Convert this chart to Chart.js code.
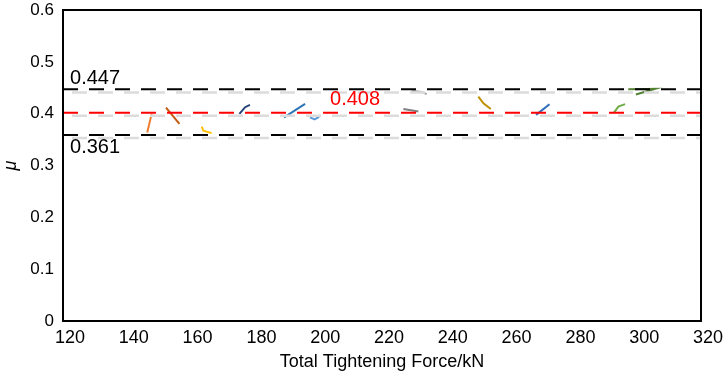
<!DOCTYPE html>
<html>
<head>
<meta charset="utf-8">
<script src="https://cdn.jsdelivr.net/npm/chart.js@4.4.1/dist/chart.umd.min.js"></script>
<style>
  html, body { margin: 0; padding: 0; background: #fff; }
  #wrap { width: 727px; height: 373px; position: relative; }
</style>
</head>
<body>
<div id="wrap"><canvas id="chart"></canvas></div>
<script>
// measured segments, one per test
const seriesColors = ["#ED7D31", "#C55A11", "#FFC000", "#264478", "#2E75B6", "#5B9BD5",
  "#7F7F7F", "#A5A5A5", "#BF9000", "#2F6EBA", "#70AD47", "#548235"];
const seriesX = [
  [146.4, 147.8],
  [152.3, 156.5],
  [163.5, 164.0, 166.6],
  [175.3, 177.1, 178.6],
  [189.3, 195.9],
  [197.4, 198.9, 200.3],
  [226.7, 231.4],
  [229.3, 232.4, 234.0],
  [250.2, 251.8, 254.1],
  [268.3, 272.5],
  [292.7, 294.1, 296.2],
  [297.2, 305.6, 299.6]
];
const seriesY = [
  [0.3635, 0.3996],
  [0.4118, 0.3803],
  [0.375, 0.367, 0.3624],
  [0.3996, 0.4125, 0.417],
  [0.393, 0.419],
  [0.393, 0.389, 0.394],
  [0.409, 0.404],
  [0.444, 0.442, 0.4377],
  [0.433, 0.420, 0.409],
  [0.3977, 0.4183],
  [0.402, 0.4137, 0.4183],
  [0.4473, 0.448, 0.437]
];

// reference lines: upper bound, mean, lower bound
const refValues = [0.447, 0.402, 0.359];
const refLabels = ["0.447", "0.408", "0.361"];
const refColors = ["#000000", "#FF0000", "#000000"];

const xTicks = [120, 140, 160, 180, 200, 220, 240, 260, 280, 300, 320];
const yTicks = [0, 0.1, 0.2, 0.3, 0.4, 0.5, 0.6];

const datasets = [];

// light grey shadows under the dashed lines
refValues.forEach((v) => {
  datasets.push({
    data: [{ x: 120, y: v - 0.006 }, { x: 320, y: v - 0.006 }],
    borderColor: "#DCDCDC",
    borderWidth: 2.5,
    borderDash: [15, 11],
    borderDashOffset: -9,
    pointRadius: 0,
    showLine: true,
  });
});

refValues.forEach((v, i) => {
  datasets.push({
    data: [{ x: 120, y: v }, { x: 320, y: v }],
    borderColor: refColors[i],
    borderWidth: 2,
    borderDash: [15, 11],
    pointRadius: 0,
    showLine: true,
  });
});

seriesX.forEach((xs, i) => {
  datasets.push({
    data: xs.map((x, j) => ({ x: x, y: seriesY[i][j] })),
    borderColor: seriesColors[i],
    borderWidth: 2,
    pointRadius: 0,
    showLine: true,
    tension: 0,
  });
});

const annotations = [
  { text: refLabels[0], x: 122.2, y: 0.468, color: refColors[0] },
  { text: refLabels[1], x: 203.7, y: 0.4275, color: refColors[1] },
  { text: refLabels[2], x: 122.2, y: 0.3346, color: refColors[2] },
];

const framePlugin = {
  id: "frame",
  afterDraw(chart) {
    const { ctx, chartArea: a, scales } = chart;
    ctx.save();
    ctx.strokeStyle = "#000";
    ctx.lineWidth = 2;
    ctx.strokeRect(a.left, a.top, a.right - a.left, a.bottom - a.top);
    ctx.font = "20px 'Liberation Sans', Arial, sans-serif";
    ctx.textBaseline = "middle";
    ctx.textAlign = "left";
    annotations.forEach((t) => {
      ctx.fillStyle = t.color;
      ctx.fillText(t.text, scales.x.getPixelForValue(t.x), scales.y.getPixelForValue(t.y));
    });
    ctx.restore();
  },
};

const tickFont = { family: "'Liberation Sans', Arial, sans-serif", size: 18 };

new Chart(document.getElementById("chart"), {
  type: "scatter",
  data: { datasets: datasets },
  options: {
    responsive: true,
    maintainAspectRatio: false,
    animation: false,
    layout: { padding: { top: 10, right: 26, left: 0, bottom: 0 } },
    plugins: { legend: { display: false }, tooltip: { enabled: false } },
    scales: {
      x: {
        type: "linear",
        min: 120,
        max: 320,
        afterFit: (s) => { s.height = 52; s.paddingLeft = 0; s.paddingRight = 0; },
        afterBuildTicks: (s) => { s.ticks = xTicks.map((v) => ({ value: v })); },
        grid: { display: false, drawTicks: false },
        border: { color: "#000", width: 2 },
        ticks: { color: "#000", font: tickFont, padding: 6, labelOffset: 7, maxRotation: 0 },
        title: {
          display: true,
          text: "Total Tightening Force/kN",
          color: "#000",
          font: { family: "'Liberation Sans', Arial, sans-serif", size: 18 },
          padding: { top: 0, bottom: 0 },
        },
      },
      y: {
        type: "linear",
        min: 0,
        max: 0.6,
        afterFit: (s) => { s.width = 63; s.paddingTop = 0; s.paddingBottom = 0; },
        afterBuildTicks: (s) => { s.ticks = yTicks.map((v) => ({ value: v })); },
        grid: { display: false, drawTicks: false },
        border: { color: "#000", width: 2 },
        ticks: {
          color: "#000",
          font: { family: "'Liberation Sans', Arial, sans-serif", size: 17 },
          padding: 9,
          callback: (v) => (v === 0 ? "0" : v.toFixed(1)),
        },
        title: {
          display: true,
          text: "μ",
          color: "#000",
          font: { family: "'Liberation Sans', Arial, sans-serif", size: 18, style: "italic" },
          padding: { top: 0, bottom: 0 },
        },
      },
    },
  },
  plugins: [framePlugin],
});
</script>
</body>
</html>
